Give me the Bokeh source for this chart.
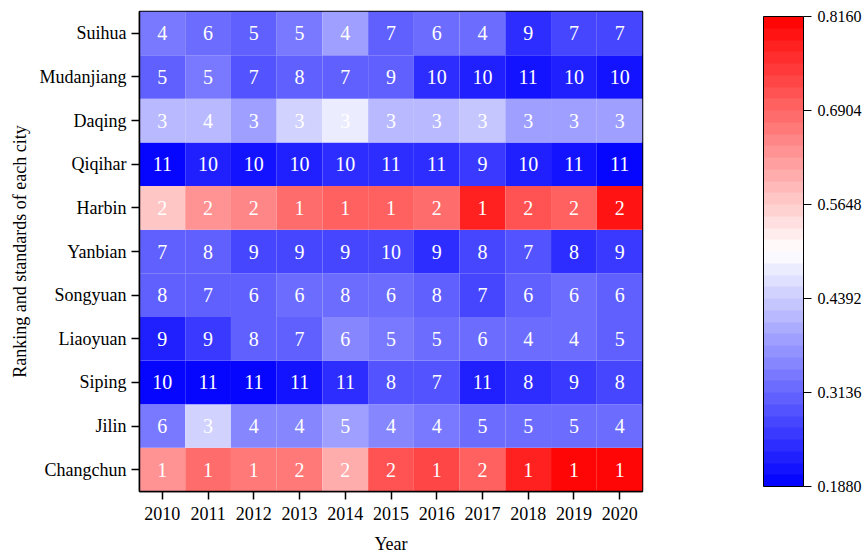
from bokeh.plotting import figure
from bokeh.models import ColumnDataSource, LinearColorMapper, ColorBar, FixedTicker, PrintfTickFormatter, FactorRange
from bokeh.embed import file_html
from bokeh.resources import INLINE
from bokeh.core.properties import value

# Cities from bottom to top
cities = ["Changchun", "Jilin", "Siping", "Liaoyuan", "Songyuan", "Yanbian",
          "Harbin", "Qiqihar", "Daqing", "Mudanjiang", "Suihua"]
years = ["2010", "2011", "2012", "2013", "2014", "2015", "2016", "2017", "2018", "2019", "2020"]

ranks_changchun = [1, 1, 1, 2, 2, 2, 1, 2, 1, 1, 1]
ranks_jilin = [6, 3, 4, 4, 5, 4, 4, 5, 5, 5, 4]
ranks_siping = [10, 11, 11, 11, 11, 8, 7, 11, 8, 9, 8]
ranks_liaoyuan = [9, 9, 8, 7, 6, 5, 5, 6, 4, 4, 5]
ranks_songyuan = [8, 7, 6, 6, 8, 6, 8, 7, 6, 6, 6]
ranks_yanbian = [7, 8, 9, 9, 9, 10, 9, 8, 7, 8, 9]
ranks_harbin = [2, 2, 2, 1, 1, 1, 2, 1, 2, 2, 2]
ranks_qiqihar = [11, 10, 10, 10, 10, 11, 11, 9, 10, 11, 11]
ranks_daqing = [3, 4, 3, 3, 3, 3, 3, 3, 3, 3, 3]
ranks_mudanjiang = [5, 5, 7, 8, 7, 9, 10, 10, 11, 10, 10]
ranks_suihua = [4, 6, 5, 5, 4, 7, 6, 4, 9, 7, 7]

score_changchun = [0.631, 0.686, 0.668, 0.668, 0.600, 0.711, 0.736, 0.705, 0.773, 0.816, 0.814]
score_jilin = [0.336, 0.453, 0.360, 0.360, 0.379, 0.360, 0.342, 0.323, 0.323, 0.318, 0.323]
score_siping = [0.192, 0.190, 0.189, 0.206, 0.237, 0.287, 0.293, 0.220, 0.250, 0.256, 0.274]
score_liaoyuan = [0.225, 0.262, 0.300, 0.300, 0.360, 0.336, 0.323, 0.323, 0.323, 0.323, 0.305]
score_songyuan = [0.300, 0.300, 0.300, 0.323, 0.318, 0.323, 0.300, 0.268, 0.305, 0.323, 0.305]
score_yanbian = [0.300, 0.300, 0.268, 0.268, 0.268, 0.268, 0.243, 0.268, 0.293, 0.250, 0.256]
score_harbin = [0.576, 0.631, 0.644, 0.681, 0.705, 0.705, 0.681, 0.773, 0.717, 0.705, 0.791]
score_qiqihar = [0.200, 0.230, 0.206, 0.220, 0.237, 0.243, 0.243, 0.256, 0.220, 0.206, 0.200]
score_daqing = [0.410, 0.410, 0.379, 0.453, 0.471, 0.410, 0.410, 0.434, 0.379, 0.379, 0.391]
score_mudanjiang = [0.310, 0.336, 0.293, 0.300, 0.310, 0.300, 0.237, 0.225, 0.206, 0.220, 0.206]
score_suihua = [0.342, 0.318, 0.305, 0.336, 0.379, 0.310, 0.318, 0.323, 0.250, 0.280, 0.280]

cb_ticks = [0.1880, 0.3136, 0.4392, 0.5648, 0.6904, 0.8160]

ranks_by_city = [ranks_changchun, ranks_jilin, ranks_siping, ranks_liaoyuan, ranks_songyuan,
                 ranks_yanbian, ranks_harbin, ranks_qiqihar, ranks_daqing, ranks_mudanjiang, ranks_suihua]
scores_by_city = [score_changchun, score_jilin, score_siping, score_liaoyuan, score_songyuan,
                  score_yanbian, score_harbin, score_qiqihar, score_daqing, score_mudanjiang, score_suihua]

xs, ys, vals, labels = [], [], [], []
for city, rr, ss in zip(cities, ranks_by_city, scores_by_city):
    for yr, r, s in zip(years, rr, ss):
        xs.append(yr)
        ys.append(city)
        vals.append(s)
        labels.append(str(r))

src = ColumnDataSource(dict(x=xs, y=ys, v=vals, t=labels))

# blue - white - red palette, 40 steps
n = 40
palette = []
for i in range(n):
    t = (i + 0.5) / n
    if t < 0.5:
        c = int(round(t / 0.5 * 255))
        palette.append("#%02x%02x%02x" % (c, c, 255))
    else:
        c = int(round((1 - t) / 0.5 * 255))
        palette.append("#%02x%02x%02x" % (255, c, c))

mapper = LinearColorMapper(palette=palette, low=cb_ticks[0], high=cb_ticks[-1])

FONT = "Liberation Serif"

p = figure(width=865, height=556, x_range=FactorRange(*years), y_range=FactorRange(*cities),
           output_backend="svg", toolbar_location=None,
           min_border_left=139, min_border_right=223, min_border_top=11, min_border_bottom=63)

p.rect(x="x", y="y", width=1, height=1, source=src,
       fill_color={"field": "v", "transform": mapper}, line_color=None)
p.text(x="x", y="y", text="t", source=src, text_color="white",
       text_font=value(FONT), text_font_size="20px", text_align="center", text_baseline="middle")

p.xgrid.grid_line_color = None
p.ygrid.grid_line_color = None
p.outline_line_color = "black"
p.outline_line_width = 1.5

for ax in (p.xaxis[0], p.yaxis[0]):
    ax.axis_line_color = "black"
    ax.axis_line_width = 1.5
    ax.major_tick_line_color = "black"
    ax.major_tick_line_width = 1.5
    ax.major_tick_out = 8
    ax.major_tick_in = 0
    ax.minor_tick_line_color = None
    ax.major_label_text_font = FONT
    ax.major_label_text_font_size = "18px"
    ax.major_label_text_color = "black"
    ax.axis_label_text_font = FONT
    ax.axis_label_text_font_size = "18px"
    ax.axis_label_text_font_style = "normal"
    ax.axis_label_text_color = "black"

p.xaxis.axis_label = "Year"
p.yaxis.axis_label = "Ranking and standards of each city"
p.xaxis.major_label_standoff = 7
p.xaxis.axis_label_standoff = 11
p.yaxis.major_label_standoff = 5
p.yaxis.axis_label_standoff = 7

cb = ColorBar(color_mapper=mapper, width=40, height=470, location=(121, 5),
              ticker=FixedTicker(ticks=cb_ticks), formatter=PrintfTickFormatter(format="%.4f"),
              major_label_text_font=FONT, major_label_text_font_size="16px",
              major_label_text_color="black",
              major_tick_out=8, major_tick_in=0, major_tick_line_color="black",
              bar_line_color="black", bar_line_width=1, padding=0, margin=0,
              label_standoff=6, background_fill_color=None, border_line_color=None)
p.add_layout(cb, "right")

open("out.html", "w").write(file_html(p, INLINE))
